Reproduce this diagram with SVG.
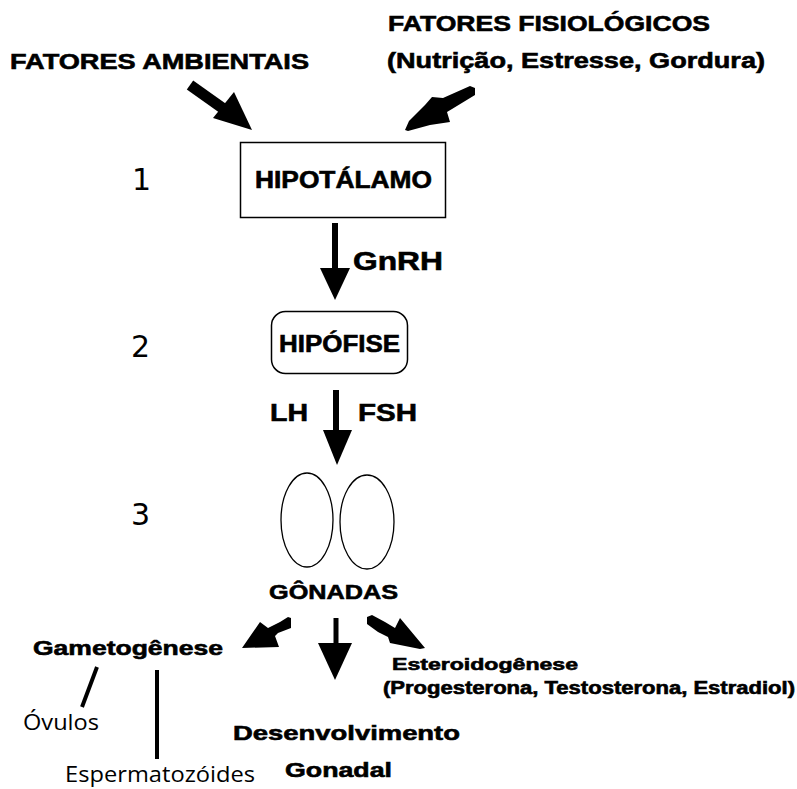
<svg xmlns="http://www.w3.org/2000/svg" width="797" height="789" viewBox="0 0 797 789">
<style>
.b{font-family:"Liberation Sans",Arial,sans-serif;font-weight:bold;fill:#000;stroke:#000;stroke-width:0.6}
.n{font-family:"DejaVu Sans",sans-serif;fill:#000}
.o{font-family:"Open Sans",sans-serif;fill:#000}
.box{fill:#fff;stroke:#000;stroke-width:1.5}
.ln{stroke:#000;fill:none}
</style>
<rect width="797" height="789" fill="#fff"/>
<g id="labels">
<text class="b" x="10" y="69" font-size="22" textLength="299" lengthAdjust="spacingAndGlyphs">FATORES AMBIENTAIS</text>
<text class="b" x="388" y="31" font-size="22" textLength="322" lengthAdjust="spacingAndGlyphs">FATORES FISIOLÓGICOS</text>
<text class="b" x="387" y="68" font-size="22" textLength="378" lengthAdjust="spacingAndGlyphs">(Nutrição, Estresse, Gordura)</text>
<text class="n" x="132" y="190" font-size="30">1</text>
<text class="n" x="131" y="357" font-size="30">2</text>
<text class="n" x="131" y="525" font-size="30">3</text>
</g>
<g id="hipotalamo">
<rect class="box" x="240.5" y="142.5" width="205" height="75"/>
<text class="b" x="255" y="188" font-size="23" textLength="177" lengthAdjust="spacingAndGlyphs">HIPOTÁLAMO</text>
</g>
<g id="hipofise">
<rect class="box" x="271.5" y="311.5" width="136" height="62" rx="14"/>
<text class="b" x="279" y="352" font-size="23" textLength="121" lengthAdjust="spacingAndGlyphs">HIPÓFISE</text>
</g>
<g id="gonadas">
<ellipse class="ln" cx="307" cy="520" rx="26" ry="47" stroke-width="1.3"/>
<ellipse class="ln" cx="367" cy="522" rx="27" ry="47" stroke-width="1.3"/>
<text class="b" x="269" y="599" font-size="21" textLength="129" lengthAdjust="spacingAndGlyphs">GÔNADAS</text>
</g>
<g id="gametogenese">
<text class="b" x="33" y="655" font-size="21" textLength="190" lengthAdjust="spacingAndGlyphs">Gametogênese</text>
</g>
<g id="ovulos">
<text class="o" x="23" y="730" font-size="21" textLength="76" lengthAdjust="spacingAndGlyphs">Óvulos</text>
</g>
<g id="espermatozoides">
<text class="o" x="65" y="782" font-size="21" textLength="190" lengthAdjust="spacingAndGlyphs">Espermatozóides</text>
</g>
<g id="desenvolvimento">
<text class="b" x="233" y="740" font-size="21" textLength="227" lengthAdjust="spacingAndGlyphs">Desenvolvimento</text>
<text class="b" x="285" y="777" font-size="21" textLength="107" lengthAdjust="spacingAndGlyphs">Gonadal</text>
</g>
<g id="esteroidogenese">
<text class="b" x="392" y="670" font-size="16.5" textLength="186" lengthAdjust="spacingAndGlyphs">Esteroidogênese</text>
<text class="b" x="383" y="694" font-size="17.5" textLength="412" lengthAdjust="spacingAndGlyphs">(Progesterona, Testosterona, Estradiol)</text>
</g>
<g id="connectors">
<line class="ln" x1="190" y1="85" x2="228" y2="112" stroke-width="11"/>
<polygon points="252,130 213,118 234,92"/>
<path d="M405,130 L409,121 L425,105 L432,97 L443,98 L470,86 L475,88 L475,95 L452,109 L447,112 L450,122 L430,125 L408,131 Z"/>
<line class="ln" x1="335" y1="223" x2="335" y2="270" stroke-width="6"/>
<polygon points="320,268 350,268 335,300"/>
<text class="b" x="353" y="270" font-size="26" textLength="90" lengthAdjust="spacingAndGlyphs">GnRH</text>
<line class="ln" x1="336" y1="390" x2="336" y2="432" stroke-width="6"/>
<polygon points="323,430 352,430 337,465"/>
<text class="b" x="270" y="421" font-size="24" textLength="38" lengthAdjust="spacingAndGlyphs">LH</text>
<text class="b" x="358" y="421" font-size="24" textLength="59" lengthAdjust="spacingAndGlyphs">FSH</text>
<path d="M242,648 L260,622 L268,628 L280,622 L288,617 L291,618 L291,628 L278,633 L275,636 L279,647 Z"/>
<line class="ln" x1="336" y1="618" x2="336" y2="645" stroke-width="5"/>
<polygon points="318,643 352,643 335,680"/>
<path d="M367,617 L372,615 L385,622 L395,628 L400,618 L425,648 L420,649 L390,643 L388,637 L378,632 L367,624 Z"/>
<line class="ln" x1="97" y1="667" x2="82" y2="707" stroke-width="4"/>
<line class="ln" x1="157" y1="670" x2="157" y2="759" stroke-width="4"/>
</g>
</svg>
